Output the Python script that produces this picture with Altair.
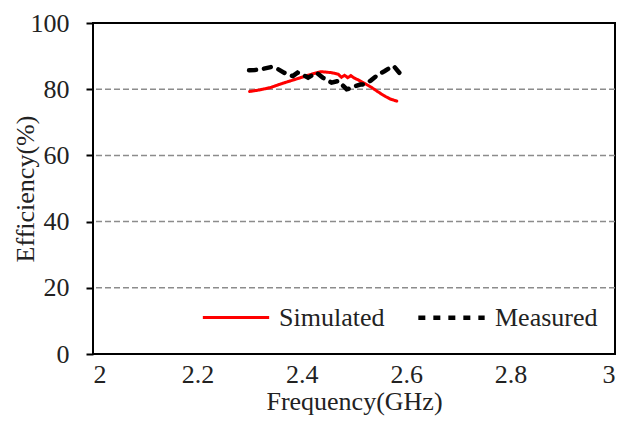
import altair as alt
import pandas as pd

sim_freq = [2.300, 2.320, 2.340, 2.360, 2.380, 2.400, 2.420, 2.437, 2.457, 2.470, 2.476, 2.482, 2.488, 2.494, 2.500, 2.508, 2.520, 2.534, 2.546, 2.559, 2.570, 2.582]
sim_eff = [79.3, 79.8, 80.5, 81.6, 82.6, 83.6, 84.6, 85.3, 85.0, 84.5, 83.6, 84.2, 83.5, 84.1, 83.4, 82.8, 81.8, 80.5, 79.2, 77.9, 77.0, 76.4]

meas_freq = [2.299, 2.310, 2.322, 2.341, 2.355, 2.366, 2.375, 2.383, 2.392, 2.402, 2.412, 2.420, 2.428, 2.440, 2.457, 2.470, 2.478, 2.486, 2.494, 2.502, 2.512, 2.521, 2.532, 2.547, 2.559, 2.567, 2.576, 2.584, 2.592]
meas_eff = [85.7, 85.8, 86.0, 86.7, 86.0, 85.0, 84.3, 84.0, 85.0, 84.3, 83.5, 84.2, 85.0, 83.5, 82.0, 82.5, 81.2, 80.0, 80.3, 80.9, 81.4, 81.5, 82.6, 84.5, 85.5, 86.3, 87.0, 85.5, 84.0]

grid_vals = [20, 40, 60, 80]

series_names = ["Simulated", "Measured"]
series_colors = ["#ff0000", "#000000"]

df = pd.concat([
    pd.DataFrame({"freq": sim_freq, "eff": sim_eff, "series": "Simulated"}),
    pd.DataFrame({"freq": meas_freq, "eff": meas_eff, "series": "Measured"}),
])
gdf = pd.DataFrame({"g": grid_vals})

FONT = "Liberation Serif"
FS = 26

x_scale = alt.Scale(domain=[2, 3], nice=False, zero=False)
y_scale = alt.Scale(domain=[0, 100], nice=False)

y_axis = alt.Axis(title="Efficiency(%)", values=[0, 20, 40, 60, 80, 100],
                  grid=False, ticks=True, tickSize=7, tickWidth=2, tickColor="#000",
                  domain=False, labelFontSize=FS, titleFontSize=FS, labelPadding=17,
                  titlePadding=-8, labelColor="#222", titleColor="#222",
                  titleFontWeight="normal", labelFont=FONT, titleFont=FONT)

grid = alt.Chart(gdf).mark_rule(color="#8c8c8c", strokeWidth=1.5, strokeDash=[6, 3]).encode(
    y=alt.Y("g:Q", scale=y_scale, axis=y_axis)
)

lines = alt.Chart(df).mark_line(strokeCap="round").encode(
    x=alt.X("freq:Q", scale=x_scale,
            axis=alt.Axis(title="Frequency(GHz)", values=[2, 2.2, 2.4, 2.6, 2.8, 3],
                          format="~g", ticks=False, grid=False, domain=False,
                          labelFontSize=FS, titleFontSize=FS, labelPadding=7,
                          titlePadding=1, labelColor="#222", titleColor="#222",
                          titleFontWeight="normal", labelFont=FONT, titleFont=FONT)),
    y=alt.Y("eff:Q", scale=y_scale, axis=y_axis),
    color=alt.Color("series:N", scale=alt.Scale(domain=series_names, range=series_colors),
                    legend=alt.Legend(title=None, orient="none", legendX=108, legendY=259,
                                      direction="horizontal", symbolType="stroke",
                                      symbolSize=4400, symbolStrokeWidth=3.5,
                                      labelFont=FONT, labelFontSize=FS, labelColor="#222",
                                      labelOffset=8, columnPadding=24, labelLimit=300)),
    strokeDash=alt.StrokeDash("series:N", scale=alt.Scale(domain=series_names, range=[[1, 0], [7, 8]]),
                              legend=None),
    strokeWidth=alt.StrokeWidth("series:N", scale=alt.Scale(domain=series_names, range=[3, 4.5]),
                                legend=None),
)

chart = alt.layer(grid, lines).properties(
    width=522, height=331,
    padding={"left": 93, "top": 23, "right": 18, "bottom": 74},
    autosize=alt.AutoSizeParams(type="none"),
    background="white",
).configure_view(stroke="#000", strokeWidth=2)

chart.save("out.html", embed_options={"renderer": "svg", "actions": False})
